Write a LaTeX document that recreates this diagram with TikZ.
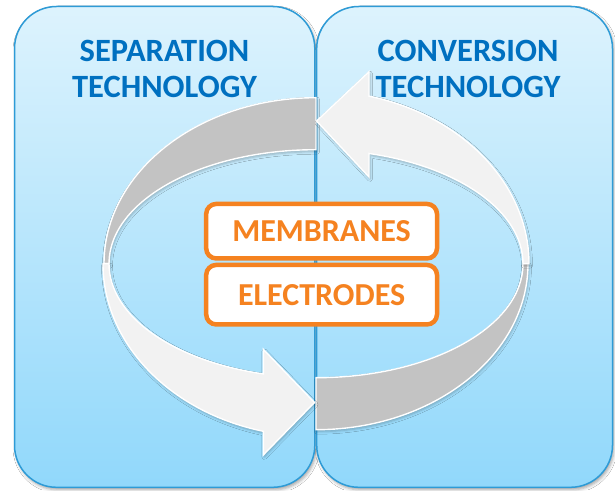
\documentclass[tikz,border=0pt]{standalone}
\usepackage{fontspec}
\setmainfont{Carlito}
\usetikzlibrary{shadows.blur}

\definecolor{boxtop}{RGB}{221,243,253}
\definecolor{boxbot}{RGB}{145,216,251}
\definecolor{boxline}{RGB}{46,155,214}
\definecolor{titleblue}{RGB}{0,112,192}
\definecolor{ringgray}{RGB}{195,195,195}
\definecolor{ringlight}{RGB}{242,242,242}
\definecolor{accent}{RGB}{245,130,32}

\tikzset{
  panel/.style={draw=boxline, line width=1.5pt, rounded corners=42pt,
    top color=boxtop, bottom color=boxbot, minimum height=480.8pt,
    inner sep=0pt,
    blur shadow={shadow xshift=1.5pt, shadow yshift=-2.5pt,
      shadow opacity=35, shadow blur radius=3pt}},
  title/.style={text=titleblue, font=\fontsize{32.5}{36}\selectfont\bfseries,
    anchor=base, inner sep=0pt},
  band/.style={draw=white, line width=1.4pt, line join=miter,
    blur shadow={shadow xshift=1pt, shadow yshift=-2pt,
      shadow opacity=25, shadow blur radius=2.5pt}},
  tag/.style={draw=accent, line width=4.5pt, rounded corners=10pt,
    fill=white, minimum width=230.8pt, inner sep=0pt, text=accent,
    font=\fontsize{32}{36}\selectfont\bfseries},
}

\begin{document}
\begin{tikzpicture}[x=1pt, y=1pt]
  \useasboundingbox[fill=white] (0,0) rectangle (615,490);

  % the two technology panels
  \node[panel, minimum width=300.3pt] (sep) at (164.65,243.1) {};
  \node[panel, minimum width=295.8pt] (conv) at (464.6,243.1) {};

  % panel titles
  \node[title] (sepA) at (164.5,428) {SEPARATION};
  \node[title] (sepB) at (164.5,392) {TECHNOLOGY};
  \node[title] (convA) at (468,428) {CONVERSION};
  \node[title] (convB) at (468,392) {TECHNOLOGY};

  % ring centre
  \coordinate (ring) at (316,226.3);

  % back (inner) faces of the ring
  \draw[band, fill=ringgray] (316,392.3)
    arc[start angle=90, end angle=180, x radius=212pt, y radius=166pt]
    -- (109,226.3)
    arc[start angle=180, end angle=90, x radius=207pt, y radius=114pt]
    -- cycle;
  \draw[band, fill=ringgray] (316,60.3)
    arc[start angle=270, end angle=360, x radius=212pt, y radius=166pt]
    -- (523,226.3)
    arc[start angle=0, end angle=-90, x radius=207pt, y radius=114pt]
    -- cycle;

  % upper arrow, running up the right side and pointing left
  \draw[band, fill=ringlight] (529,226.3)
    arc[start angle=0, end angle=75.59, x radius=213pt, y radius=173pt]
    -- (369,418.3) -- (316.5,369) -- (369,313) -- (369,336.5)
    arc[start angle=75.16, end angle=0, x radius=207pt, y radius=114pt]
    -- cycle;

  % lower arrow, running down the left side and pointing right
  \draw[band, fill=ringlight] (103,226.3)
    arc[start angle=180, end angle=255.68, x radius=213pt, y radius=173pt]
    -- (263.3,35) -- (314.5,87.5) -- (263.3,140.7) -- (263.3,116.1)
    arc[start angle=255.25, end angle=180, x radius=207pt, y radius=114pt]
    -- cycle;

  % material labels in the middle
  \node[tag, minimum height=54.5pt] (mem) at (321.6,258.8) {MEMBRANES};
  \node[tag, minimum height=59.5pt] (ele) at (321.6,195.3) {ELECTRODES};
\end{tikzpicture}
\end{document}
